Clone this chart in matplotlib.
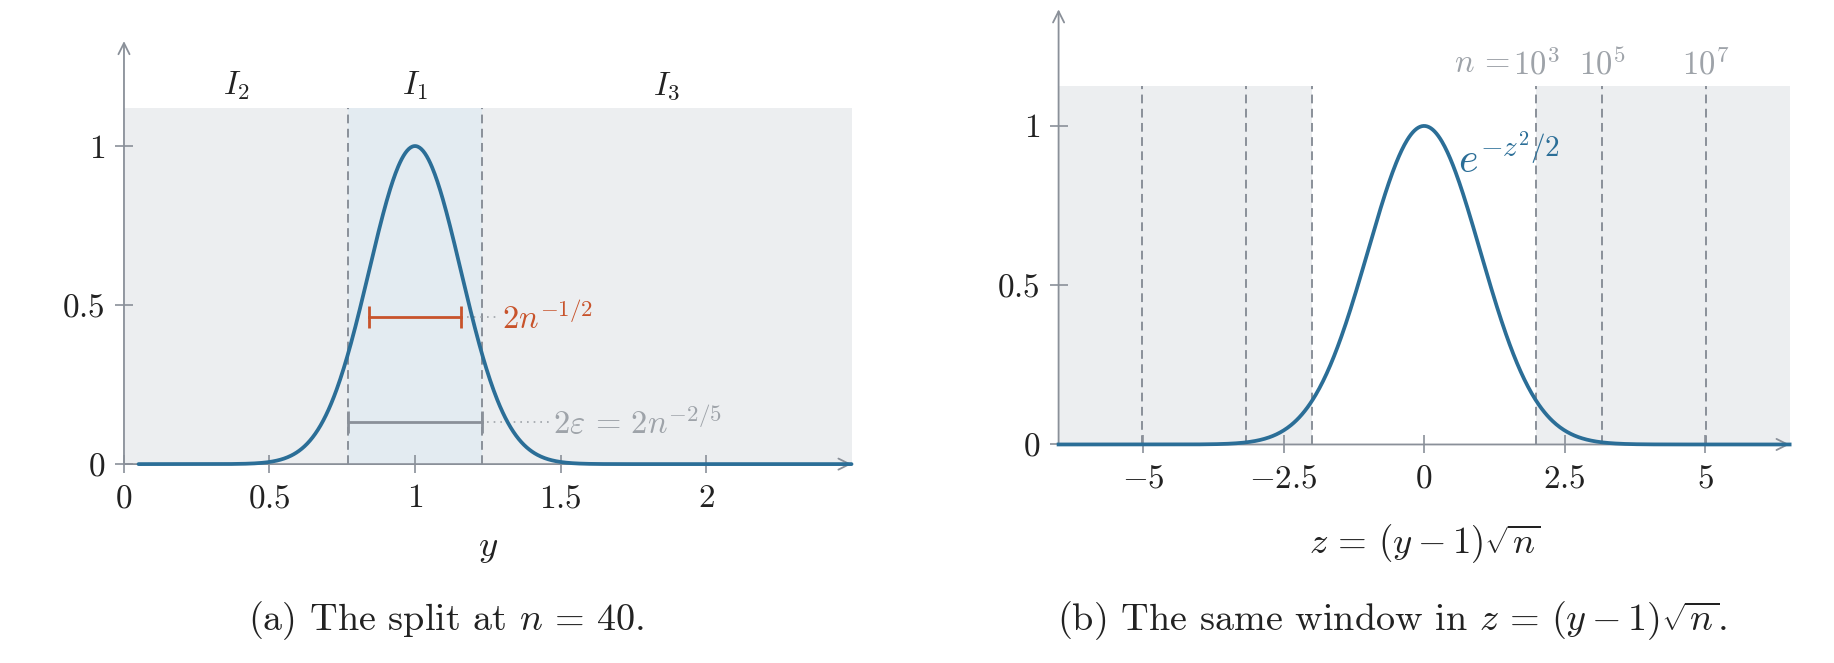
import numpy as np
import matplotlib
matplotlib.use("Agg")
import matplotlib.pyplot as plt

plt.rcParams.update({
    "font.family": "serif",
    "font.serif": ["cmr10", "DejaVu Serif"],
    "mathtext.fontset": "cm",
    "axes.unicode_minus": False,
})

# ---- data / parameters ----
n_split = 40
y_range = [0.05, 2.5]
z_range = [-6.5, 6.5]
n_windows = [1e3, 1e5, 1e7]
n_window_labels = [r"$10^3$", r"$10^5$", r"$10^7$"]
left_xticks = [0, 0.5, 1, 1.5, 2]
right_xticks = [-5, -2.5, 0, 2.5, 5]
yticks = [0, 0.5, 1]
region_labels = [r"$I_2$", r"$I_1$", r"$I_3$"]

BLUE = "#2b6e97"
RED = "#c8532b"
AXIS = "#8a9099"
LGRAY = "#9ea3a9"
SHADE = "#eceef0"
BSHADE = "#e3ebf1"
TXT = "#222222"

TICK_FS = 24
ANN_FS = 23.5
LAB_FS = 26.5
CAP_FS = 27.5

fig = plt.figure(figsize=(18.34, 6.63), dpi=100)
ax1 = fig.add_axes([0.0676, 0.300, 0.3967, 0.638])
ax2 = fig.add_axes([0.5772, 0.3296, 0.3986, 0.6563])

DASH = (0, (4.5, 2.8))


def style_axes(ax, xt, yt):
    for s in ax.spines.values():
        s.set_visible(False)
    ax.annotate("", xy=(1, 0), xytext=(0, 0), xycoords="axes fraction",
                arrowprops=dict(arrowstyle="->", color=AXIS, lw=1.3,
                                shrinkA=0, shrinkB=0, mutation_scale=20), zorder=3)
    ax.annotate("", xy=(0, 1), xytext=(0, 0), xycoords="axes fraction",
                arrowprops=dict(arrowstyle="->", color=AXIS, lw=1.3,
                                shrinkA=0, shrinkB=0, mutation_scale=20), zorder=3)
    ax.set_xticks(xt)
    ax.set_xticklabels([f"${v:g}$" for v in xt])
    ax.set_yticks(yt)
    ax.set_yticklabels([f"${v:g}$" for v in yt])
    ax.tick_params(axis="both", direction="inout", length=13, width=1.2,
                   color=AXIS, labelsize=TICK_FS, labelcolor=TXT)
    ax.tick_params(axis="x", pad=8)
    ax.tick_params(axis="y", pad=7)
    ax.patch.set_visible(False)


# ---------------- left panel ----------------
n = n_split
eps = n ** (-2 / 5)
half = n ** (-1 / 2)
top = 1.12
ax1.set_xlim(0, 2.5)
ax1.set_ylim(0, 1.33)
ax1.fill_between([0, 1 - eps], 0, top, color=SHADE, lw=0, zorder=0)
ax1.fill_between([1 - eps, 1 + eps], 0, top, color=BSHADE, lw=0, zorder=0)
ax1.fill_between([1 + eps, 2.5], 0, top, color=SHADE, lw=0, zorder=0)
for x in (1 - eps, 1 + eps):
    ax1.plot([x, x], [0, top], color=AXIS, lw=1.4, ls=DASH, zorder=1)

yy = np.linspace(y_range[0], y_range[1], 800)
ax1.plot(yy, np.exp(-n * (yy - 1) ** 2 / 2), color=BLUE, lw=2.7, zorder=5,
         solid_capstyle="round", clip_on=False)

# red bar 2n^{-1/2}
yb = 0.462
ax1.plot([1 - half, 1 + half], [yb, yb], color=RED, lw=2, marker="|",
         ms=16, mew=2, zorder=6)
ax1.plot([1 + half + 0.02, 1.29], [yb, yb], color=LGRAY, lw=1.2, ls=(0, (1, 3)), zorder=4)
ax1.text(1.30, yb, r"$2n^{-1/2}$", color=RED, fontsize=ANN_FS, va="center", ha="left")

# gray bar 2 eps
yg = 0.132
ax1.plot([1 - eps, 1 + eps], [yg, yg], color=AXIS, lw=2, marker="|",
         ms=16, mew=2, zorder=6)
ax1.plot([1 + eps + 0.02, 1.46], [yg, yg], color=LGRAY, lw=1.2, ls=(0, (1, 3)), zorder=4)
ax1.text(1.475, yg, r"$2\varepsilon\,=\,2n^{-2/5}$", color=LGRAY, fontsize=ANN_FS,
         va="center", ha="left")

for lab, xc in zip(region_labels, [(1 - eps) / 2, 1.0, (1 + eps + 2.5) / 2]):
    ax1.text(xc, 1.19, lab, ha="center", va="center", fontsize=ANN_FS, color=TXT)

style_axes(ax1, left_xticks, yticks)

# ---------------- right panel ----------------
ax2.set_xlim(z_range[0], z_range[1])
ax2.set_ylim(0, 1.366)
ztop = 1.124
zw = [m ** 0.1 for m in n_windows]
ax2.fill_between([z_range[0], -zw[0]], 0, ztop, color=SHADE, lw=0, zorder=0)
ax2.fill_between([zw[0], z_range[1]], 0, ztop, color=SHADE, lw=0, zorder=0)
for z in zw:
    for s in (-1, 1):
        ax2.plot([s * z, s * z], [0, ztop], color=AXIS, lw=1.4, ls=DASH, zorder=1)
for z, lab in zip(zw, n_window_labels):
    ax2.text(z, 1.195, lab, ha="center", va="center", fontsize=ANN_FS, color=LGRAY)
ax2.text(zw[0] - 0.47, 1.195, r"$n\,=$", ha="right", va="center", fontsize=ANN_FS,
         color=LGRAY)

zz = np.linspace(z_range[0], z_range[1], 800)
ax2.plot(zz, np.exp(-zz ** 2 / 2), color=BLUE, lw=2.7, zorder=5, clip_on=False)
ax2.text(0.6, 0.9, r"$e^{-z^2/2}$", color=BLUE, fontsize=30, va="center", ha="left")

style_axes(ax2, right_xticks, yticks)

# ---------------- labels ----------------
fig.text(488 / 1834, 1 - 548 / 663, r"$y$", fontsize=LAB_FS, ha="center", va="center",
         color=TXT)
fig.text(1425 / 1834, 1 - 544 / 663, r"$z\,=\,(y-1)\sqrt{n}$", fontsize=LAB_FS,
         ha="center", va="center", color=TXT)
fig.text(446 / 1834, 1 - 621 / 663, r"(a) The split at $n\,=\,40$.", fontsize=CAP_FS,
         ha="center", va="center", color=TXT)
fig.text(1392 / 1834, 1 - 621 / 663,
         r"(b) The same window in $z\,=\,(y-1)\sqrt{n}$.",
         fontsize=CAP_FS, ha="center", va="center", color=TXT)

fig.savefig("out.png", dpi=100, facecolor="white")
